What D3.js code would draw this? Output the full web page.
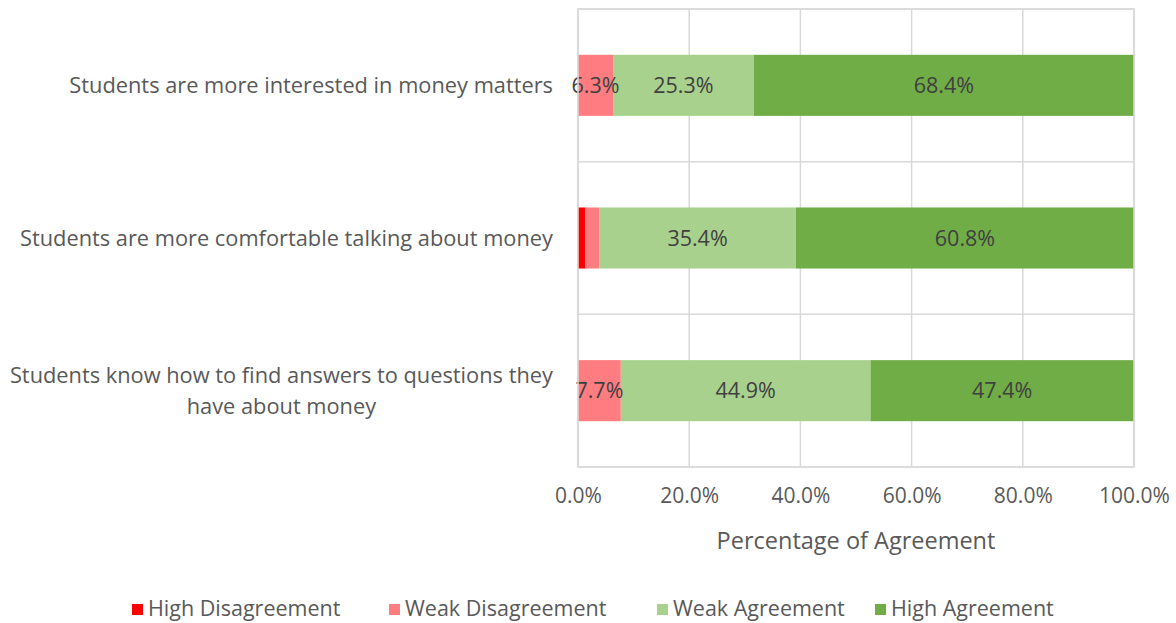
<!DOCTYPE html>
<html>
<head>
<meta charset="utf-8">
<script src="https://cdn.jsdelivr.net/npm/d3@7"></script>
<style>
  html, body { margin: 0; padding: 0; background: #fff; }
  svg { display: block; font-family: "Open Sans", "DejaVu Sans", sans-serif; }
</style>
</head>
<body>
<svg id="chart" width="1176" height="623"></svg>
<script>
// ---- data ----
const categories = [
  "Students are more interested in money matters",
  "Students are more comfortable talking about money",
  "Students know how to find answers to questions they have about money"
];
const seriesNames = ["High Disagreement", "Weak Disagreement", "Weak Agreement", "High Agreement"];
const highDisagreement = [0.0, 1.3, 0.0];
const weakDisagreement = [6.3, 2.5, 7.7];
const weakAgreement = [25.3, 35.4, 44.9];
const highAgreement = [68.4, 60.8, 47.4];
const showLabel = [
  [false, true, true, true],
  [false, false, true, true],
  [false, true, true, true]
];
const xTicks = [0, 20, 40, 60, 80, 100];
const colors = ["#ff0000", "#ff7c80", "#a9d18e", "#70ad47"];
const categoryLines = [
  ["Students are more interested in money matters"],
  ["Students are more comfortable talking about money"],
  ["Students know how to find answers to questions they", "have about money"]
];

// ---- layout ----
const svg = d3.select("#chart");
const plot = { left: 578, right: 1134, top: 9, bottom: 467 };

const x = d3.scaleLinear().domain([0, 100]).range([plot.left, plot.right]);
const y = d3.scaleBand().domain(categories).range([plot.top, plot.bottom]).paddingInner(0.6).paddingOuter(0.3);
const yBand = d3.scaleBand().domain(categories).range([plot.top, plot.bottom]);

const table = categories.map((c, i) => ({
  cat: c,
  vals: [highDisagreement[i], weakDisagreement[i], weakAgreement[i], highAgreement[i]]
}));

// gridlines vertical
svg.append("g").selectAll("line").data(xTicks).join("line")
  .attr("x1", d => x(d)).attr("x2", d => x(d))
  .attr("y1", plot.top).attr("y2", plot.bottom)
  .attr("stroke", "#d9d9d9").attr("stroke-width", 1.5);

// horizontal category separators
svg.append("g").selectAll("line").data(d3.range(categories.length + 1)).join("line")
  .attr("x1", plot.left).attr("x2", plot.right)
  .attr("y1", d => d < categories.length ? yBand(categories[d]) : plot.bottom)
  .attr("y2", d => d < categories.length ? yBand(categories[d]) : plot.bottom)
  .attr("stroke", "#d9d9d9").attr("stroke-width", 1.5);

// bars
const rows = svg.append("g").selectAll("g").data(table).join("g");
rows.each(function(row, ri) {
  let acc = 0;
  const segs = row.vals.map((v, si) => { const s = { x0: acc, x1: acc + v, v, si, ri }; acc += v; return s; });
  const g = d3.select(this);
  g.selectAll("rect").data(segs).join("rect")
    .attr("x", d => x(d.x0)).attr("width", d => x(d.x1) - x(d.x0))
    .attr("y", y(row.cat)).attr("height", y.bandwidth())
    .attr("fill", d => colors[d.si]);
  g.selectAll("text").data(segs.filter(d => showLabel[ri][d.si] && d.v > 0)).join("text")
    .attr("x", d => (x(d.x0) + x(d.x1)) / 2)
    .attr("y", y(row.cat) + y.bandwidth() / 2)
    .attr("dy", "0.35em")
    .attr("text-anchor", "middle")
    .attr("fill", "#404040")
    .attr("font-size", 21.5)
    .text(d => d.v.toFixed(1) + "%");
});

// x axis labels
const xAxis = d3.axisBottom(x).tickValues(xTicks).tickSize(0).tickPadding(21).tickFormat(d => d.toFixed(1) + "%");
const ax = svg.append("g").attr("transform", `translate(0,${plot.bottom})`).call(xAxis);
ax.select(".domain").remove();
ax.selectAll("text").attr("font-size", 21).attr("fill", "#595959").attr("font-family", "Open Sans, sans-serif");

// axis title
svg.append("text").attr("x", (plot.left + plot.right) / 2).attr("y", 549)
  .attr("text-anchor", "middle").attr("font-size", 23.5).attr("fill", "#595959")
  .text("Percentage of Agreement");

// category labels
categories.forEach((c, i) => {
  const lines = categoryLines[i];
  const cy = yBand(c) + yBand.bandwidth() / 2;
  const lh = 31;
  const t = svg.append("text").attr("text-anchor", "middle").attr("font-size", 21.8).attr("fill", "#595959");
  lines.forEach((ln, li) => {
    t.append("tspan").attr("x", 0).attr("y", cy + (li - (lines.length - 1) / 2) * lh).attr("dy", "0.35em").text(ln);
  });
  const w = t.node().getBBox().width;
  t.selectAll("tspan").attr("x", 553 - w / 2);
});

// legend
const legendX = [132, 389, 657, 875];
const lg = svg.append("g").selectAll("g").data(seriesNames).join("g")
  .attr("transform", (d, i) => `translate(${legendX[i]},608)`);
lg.append("rect").attr("x", 0).attr("y", -4).attr("width", 11).attr("height", 11).attr("fill", (d, i) => colors[i]);
lg.append("text").attr("x", 16).attr("dy", "0.35em").attr("font-size", 21.5).attr("fill", "#595959").text(d => d);

// plot border
svg.append("rect").attr("x", plot.left).attr("y", plot.top)
  .attr("width", plot.right - plot.left).attr("height", plot.bottom - plot.top)
  .attr("fill", "none").attr("stroke", "#d9d9d9").attr("stroke-width", 1.5);
</script>
</body>
</html>
